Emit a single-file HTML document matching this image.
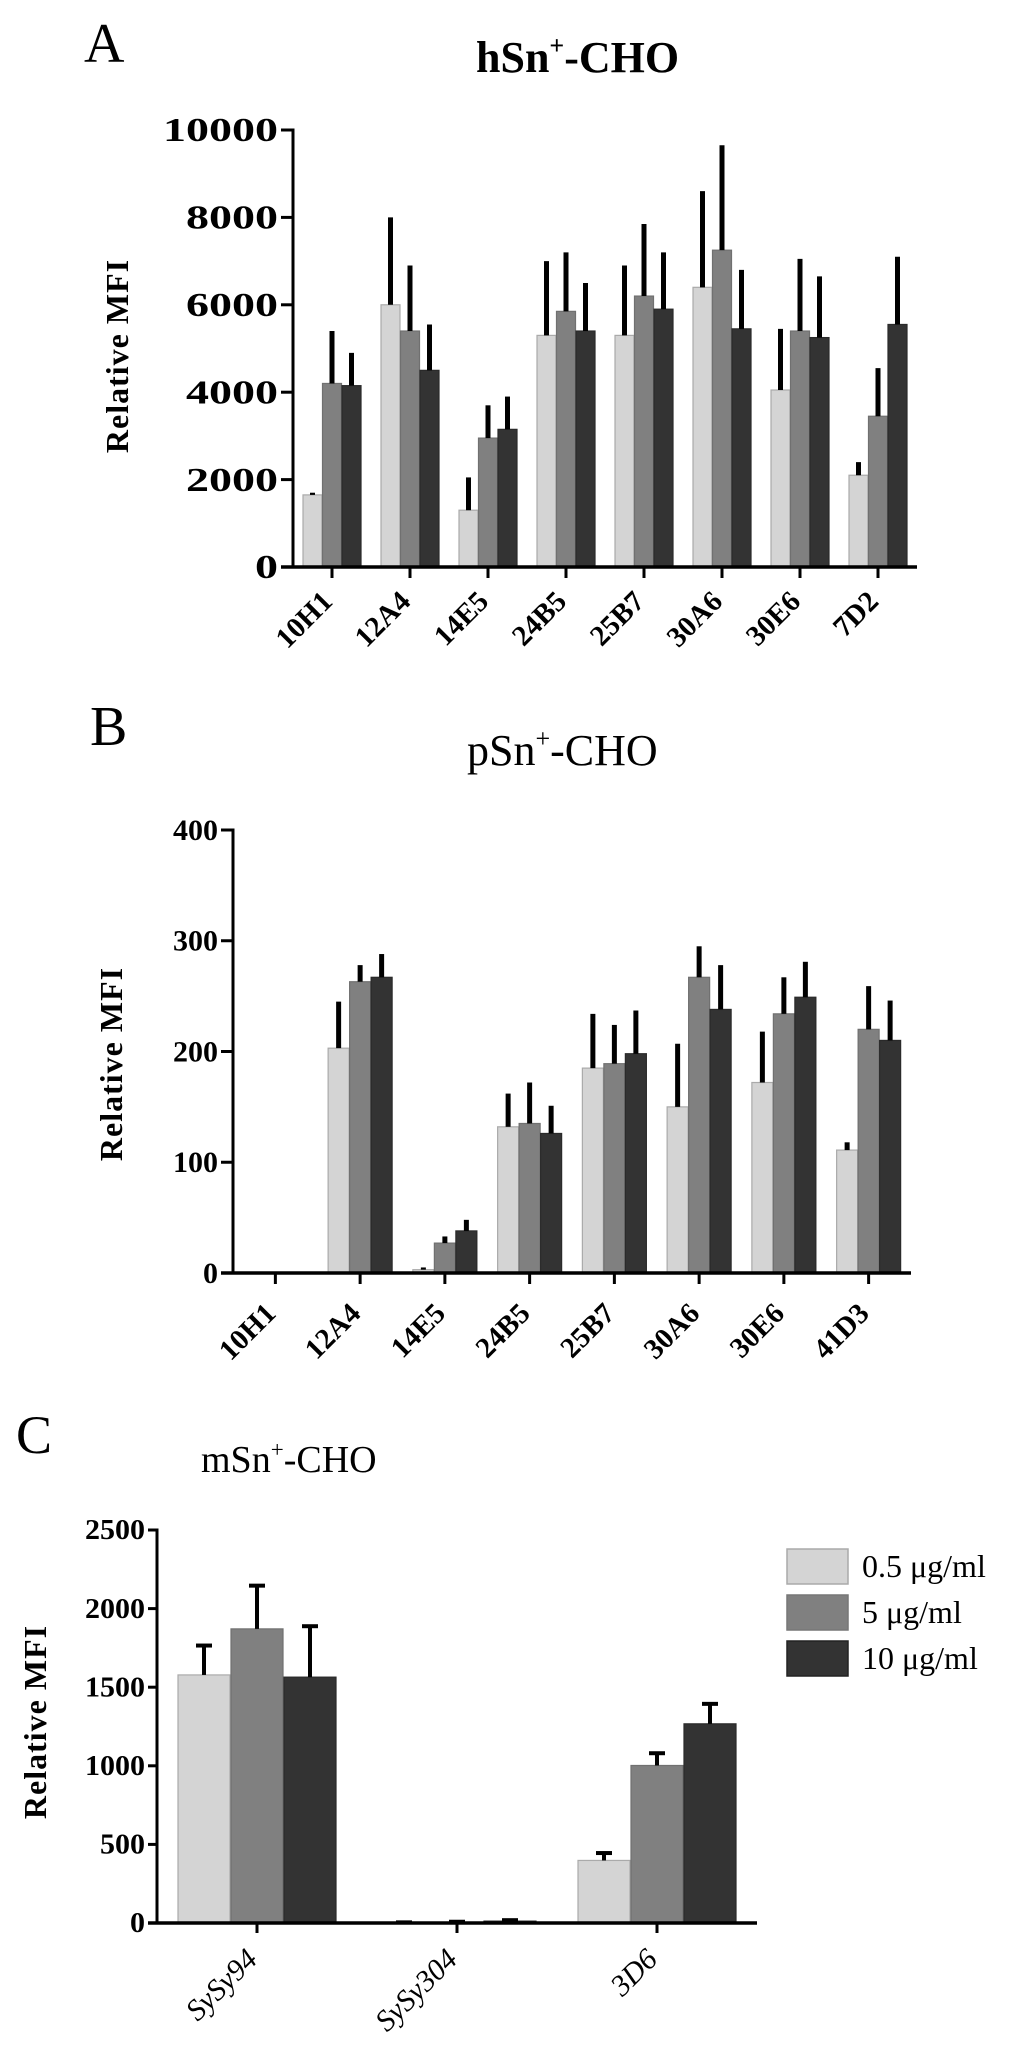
<!DOCTYPE html>
<html><head><meta charset="utf-8"><style>
html,body{margin:0;padding:0;background:#fff;}
svg{display:block;font-family:"Liberation Serif",serif;}
</style></head><body>
<svg id="fig" width="1024" height="2059" viewBox="0 0 1024 2059" xmlns="http://www.w3.org/2000/svg">
<text x="84" y="62" font-size="56">A</text>
<text x="476" y="72" font-size="44" font-weight="bold">hSn<tspan dy="-18" font-size="26">+</tspan><tspan dy="18">-CHO</tspan></text>
<text x="90" y="745" font-size="56">B</text>
<text x="467" y="765" font-size="44">pSn<tspan dy="-18" font-size="26">+</tspan><tspan dy="18">-CHO</tspan></text>
<text x="16" y="1453" font-size="54">C</text>
<text x="201" y="1472" font-size="38">mSn<tspan dy="-15" font-size="23">+</tspan><tspan dy="15">-CHO</tspan></text>
<g id="legend">
<rect x="787" y="1549" width="61" height="35" fill="#d4d4d4" stroke="#aaa" stroke-width="1.5"/>
<text x="862" y="1577" font-size="32">0.5 μg/ml</text>
<rect x="787" y="1595" width="61" height="35" fill="#808080" stroke="#777" stroke-width="1.5"/>
<text x="862" y="1623" font-size="32">5 μg/ml</text>
<rect x="787" y="1641" width="61" height="35" fill="#333" stroke="#222" stroke-width="1.5"/>
<text x="862" y="1669" font-size="32">10 μg/ml</text>
</g>
</svg>
<script>
// Panel A data
const catsA = ["10H1","12A4","14E5","24B5","25B7","30A6","30E6","7D2"];
const lowA  = [1650,6000,1300,5300,5300,6400,4050,2100];
const midA  = [4200,5400,2950,5850,6200,7250,5400,3450];
const highA = [4150,4500,3150,5400,5900,5450,5250,5550];
const lowAErr  = [1700,8000,2050,7000,6900,8600,5450,2400];
const midAErr  = [5400,6900,3700,7200,7850,9650,7050,4550];
const highAErr = [4900,5550,3900,6500,7200,6800,6650,7100];
const ticksA = [0,2000,4000,6000,8000,10000];
// Panel B data
const catsB = ["10H1","12A4","14E5","24B5","25B7","30A6","30E6","41D3"];
const lowB  = [0,203,3,132,185,150,172,111];
const midB  = [0,263,27,135,189,267,234,220];
const highB = [0,267,38,126,198,238,249,210];
const lowBErr  = [0,245,5,162,234,207,218,118];
const midBErr  = [0,278,33,172,224,295,267,259];
const highBErr = [0,288,48,151,237,278,281,246];
const ticksB = [0,100,200,300,400];
// Panel C data
const catsC = ["SySy94","SySy304","3D6"];
const lowC  = [1578,0,398];
const midC  = [1871,5,1002];
const highC = [1564,12,1267];
const lowCErr  = [1765,4,445];
const midCErr  = [2146,8,1080];
const highCErr = [1888,18,1394];
const ticksC = [0,500,1000,1500,2000,2500];

const NS="http://www.w3.org/2000/svg";
const svg=document.getElementById("fig");
const fills=["#d4d4d4","#808080","#333333"];
const strokes=["#aaaaaa","#707070","#2a2a2a"];
const seriesNames=["low","mid","high"];
function mk(tag,attrs,parent){const e=document.createElementNS(NS,tag);for(const k in attrs)e.setAttribute(k,attrs[k]);(parent||svg).appendChild(e);return e;}

function panel(cfg){
  const g=mk("g",{});
  
  
  const yScale=v=>cfg.y0-(v-cfg.vmin)/(cfg.vmax-cfg.vmin)*(cfg.y0-cfg.y1);
  const n=cfg.cats.length, cw=(cfg.x1-cfg.x0)/n;
  const xc=i=>cfg.x0+cw*(i+0.5);
  const series=[cfg.s0,cfg.s1,cfg.s2], errs=[cfg.e0,cfg.e1,cfg.e2];
  for(let i=0;i<n;i++){
    for(let s=0;s<3;s++){
      const bx=xc(i)-1.5*cfg.bw-cfg.gap+s*(cfg.bw+cfg.gap);
      const v=series[s][i], top=yScale(v);
      const r=mk("rect",{x:bx,y:top,width:cfg.bw,height:Math.max(0,cfg.y0-top),fill:fills[s],stroke:strokes[s],"stroke-width":1.2},g);
      
      
      const et=yScale(errs[s][i]);
      if(errs[s][i]>v){
        const l=mk("line",{x1:bx+cfg.bw/2,x2:bx+cfg.bw/2,y1:top,y2:et,stroke:"#000","stroke-width":cfg.ew},g);
        
        
        if(cfg.cap){
          const c=mk("line",{x1:bx+cfg.bw/2-cfg.cap,x2:bx+cfg.bw/2+cfg.cap,y1:et,y2:et,stroke:"#000","stroke-width":4},g);
          
          
        }
      }
    }
    const t=mk("line",{x1:xc(i),x2:xc(i),y1:cfg.y0,y2:cfg.y0+cfg.tl,stroke:"#000","stroke-width":3},g);
    
    
    const lx=xc(i)+2, ly=cfg.y0+cfg.lo;
    const lab=mk("text",{x:lx,y:ly,"text-anchor":"end","font-size":cfg.xfs,"font-weight":cfg.xbold?"bold":"normal","font-style":cfg.xital?"italic":"normal",transform:"rotate(-45 "+lx+" "+ly+")"},g);
    lab.textContent=cfg.cats[i];
    
    
  }
  const ya=mk("line",{x1:cfg.x0,x2:cfg.x0,y1:cfg.y1-1.5,y2:cfg.y0+1.5,stroke:"#000","stroke-width":3},g);
  
  
  const xa=mk("line",{x1:cfg.x0-cfg.yt,x2:cfg.x1,y1:cfg.y0,y2:cfg.y0,stroke:"#000","stroke-width":3.5},g);
  
  
  cfg.ticks.forEach(v=>{
    const y=yScale(v);
    const t=mk("line",{x1:cfg.x0-cfg.yt,x2:cfg.x0,y1:y,y2:y,stroke:"#000","stroke-width":3},g);
    
    
    const s=String(v);
    const tx=mk("text",{x:cfg.x0-cfg.yt-3,y:y+cfg.yfs*0.33,"text-anchor":"end","font-size":cfg.yfs,"font-weight":"bold",textLength:s.length*cfg.dw,lengthAdjust:"spacingAndGlyphs"},g);
    tx.textContent=s;
    
    
  });
  const yt=mk("text",{x:cfg.tx,y:cfg.ty,"text-anchor":"middle","font-size":cfg.tfs,"font-weight":"bold","letter-spacing":"1",transform:"rotate(-90 "+cfg.tx+" "+cfg.ty+")"},g);
  yt.textContent="Relative MFI";
  
  
}

panel({id:"panel-a",cats:catsA,s0:lowA,s1:midA,s2:highA,e0:lowAErr,e1:midAErr,e2:highAErr,ticks:ticksA,
  vmin:0,vmax:10000,x0:293,x1:917,y0:567,y1:130,bw:19,gap:0.5,ew:5,cap:0,tl:11,yt:12,lo:36,xfs:29,xbold:true,xital:false,
  yfs:34,dw:23,tx:128,ty:356,tfs:32});
panel({id:"panel-b",cats:catsB,s0:lowB,s1:midB,s2:highB,e0:lowBErr,e1:midBErr,e2:highBErr,ticks:ticksB,
  vmin:0,vmax:400,x0:233,x1:911,y0:1273,y1:830,bw:21,gap:0.5,ew:5,cap:0,tl:11,yt:12,lo:42,xfs:29,xbold:true,xital:false,
  yfs:30,dw:15,tx:122,ty:1064,tfs:32});
panel({id:"panel-c",cats:catsC,s0:lowC,s1:midC,s2:highC,e0:lowCErr,e1:midCErr,e2:highCErr,ticks:ticksC,
  vmin:0,vmax:2500,x0:157,x1:757,y0:1923,y1:1530,bw:52,gap:1,ew:4,cap:8,tl:10,yt:9,lo:38,xfs:30,xbold:false,xital:true,
  yfs:28,dw:15,tx:46,ty:1722,tfs:32});
</script>
</body></html>
